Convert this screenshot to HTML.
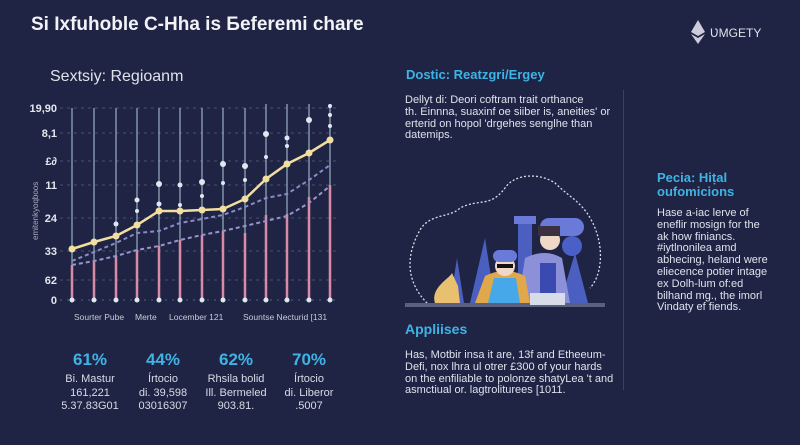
<!DOCTYPE html>
<html><head><meta charset="utf-8"><style>
body{margin:0;width:800px;height:445px;background:#1f2444;font-family:"Liberation Sans",sans-serif;overflow:hidden;position:relative;color:#e6e8f0}
.a{position:absolute;white-space:nowrap}
.cy{color:#3fb3e6;font-weight:bold}
.p{font-size:11px;line-height:11.8px;color:#dfe2ec}
.st{position:absolute;text-align:center;width:80px;font-size:11px;line-height:13.5px;color:#d8dbe6}
.st b{display:block;font-size:17px;line-height:22px;color:#3fb3e6;margin-bottom:2px}
</style></head><body>
<div class="a" style="left:31px;top:14px;font-size:19px;font-weight:bold;color:#f2f3f7">Si Ixfuhoble C-Hha is Бeferemi chare</div>
<svg class="a" style="left:691px;top:20px" width="14" height="24"><polygon points="7,0 14,12 7,16 0,12" fill="#ccd"/><polygon points="7,18 14,14 7,24 0,14" fill="#ccd"/></svg>
<div class="a" style="left:710px;top:26px;font-size:12px;color:#dfe1ea">ƲMGETY</div>
<div class="a" style="left:50px;top:68px;font-size:16px;color:#e0e2ea">Sextsiy: Regioanm</div>

<svg class="a" style="left:0;top:0" width="360" height="330">
<g font-family="Liberation Sans" font-size="11" font-weight="bold" fill="#e4e6ee" text-anchor="end">
<text x="57" y="112">19,90</text><text x="57" y="137">8,1</text><text x="57" y="165">£∂</text><text x="57" y="189">11</text><text x="57" y="222">24</text><text x="57" y="255">33</text><text x="57" y="284">62</text><text x="57" y="304">0</text>
</g>
<text transform="translate(38,240) rotate(-90)" font-size="8" fill="#aab" font-family="Liberation Sans">emitenkyoqboos</text>
<g stroke="#4a5070" stroke-dasharray="3,4" stroke-width="1">
<line x1="60" x2="340" y1="108" y2="108"/><line x1="60" x2="340" y1="133" y2="133"/><line x1="60" x2="340" y1="161" y2="161"/><line x1="60" x2="340" y1="185" y2="185"/><line x1="60" x2="340" y1="218" y2="218"/><line x1="60" x2="340" y1="251" y2="251"/><line x1="60" x2="340" y1="280" y2="280"/>
</g>
<line x1="60" x2="340" y1="300" y2="300" stroke="#5a6080" stroke-dasharray="2,5"/>
<g stroke="#b8d0e4" stroke-opacity="0.65" stroke-width="1.5">
<line x1="72" x2="72" y1="108" y2="300"/><line x1="94" x2="94" y1="108" y2="300"/><line x1="116" x2="116" y1="108" y2="300"/><line x1="137" x2="137" y1="108" y2="300"/><line x1="159" x2="159" y1="108" y2="300"/><line x1="180" x2="180" y1="108" y2="300"/><line x1="202" x2="202" y1="108" y2="300"/><line x1="223" x2="223" y1="108" y2="300"/><line x1="245" x2="245" y1="108" y2="300"/><line x1="266" x2="266" y1="104" y2="300"/><line x1="287" x2="287" y1="104" y2="300"/><line x1="309" x2="309" y1="104" y2="300"/><line x1="330" x2="330" y1="104" y2="300"/>
</g>
<g stroke="#d98aa6" stroke-width="2.5">
<line x1="72" x2="72" y1="265" y2="300"/><line x1="94" x2="94" y1="261" y2="300"/><line x1="116" x2="116" y1="256" y2="300"/><line x1="137" x2="137" y1="250" y2="300"/><line x1="159" x2="159" y1="246" y2="300"/><line x1="180" x2="180" y1="240" y2="300"/><line x1="202" x2="202" y1="235" y2="300"/><line x1="223" x2="223" y1="231" y2="300"/><line x1="245" x2="245" y1="233" y2="300"/><line x1="266" x2="266" y1="215" y2="300"/><line x1="287" x2="287" y1="214" y2="300"/><line x1="309" x2="309" y1="197" y2="300"/><line x1="330" x2="330" y1="185" y2="300"/>
</g>
<g fill="#dfe8f2">
<circle cx="72" cy="300" r="2.5"/><circle cx="94" cy="300" r="2.5"/><circle cx="116" cy="300" r="2.5"/><circle cx="137" cy="300" r="2.5"/><circle cx="159" cy="300" r="2.5"/><circle cx="180" cy="300" r="2.5"/><circle cx="202" cy="300" r="2.5"/><circle cx="223" cy="300" r="2.5"/><circle cx="245" cy="300" r="2.5"/><circle cx="266" cy="300" r="2.5"/><circle cx="287" cy="300" r="2.5"/><circle cx="309" cy="300" r="2.5"/><circle cx="330" cy="300" r="2.5"/>
<circle cx="116" cy="224" r="2.5"/><circle cx="137" cy="200" r="2.5"/><circle cx="137" cy="211" r="2"/><circle cx="159" cy="184" r="3"/><circle cx="159" cy="204" r="2.5"/><circle cx="180" cy="185" r="2.5"/><circle cx="180" cy="205" r="2"/><circle cx="202" cy="182" r="3"/><circle cx="202" cy="196" r="2"/><circle cx="223" cy="164" r="3"/><circle cx="223" cy="183" r="2"/><circle cx="245" cy="166" r="3"/><circle cx="245" cy="180" r="2"/><circle cx="266" cy="134" r="3"/><circle cx="266" cy="157" r="2"/><circle cx="287" cy="138" r="2.5"/><circle cx="287" cy="146" r="2"/><circle cx="309" cy="120" r="3"/><circle cx="330" cy="115" r="2"/><circle cx="330" cy="126" r="2"/><circle cx="330" cy="106" r="2"/>
</g>
<polyline fill="none" stroke="#8a8cc8" stroke-width="2" stroke-dasharray="4,3" points="72,261 94,252 116,243 137,233 159,231 180,223 202,219 223,215 245,207 266,198 287,194 309,180 330,165"/>
<polyline fill="none" stroke="#9a94c8" stroke-width="2" stroke-dasharray="4,3" points="72,265 94,261 116,256 137,250 159,246 180,240 202,235 223,231 245,226 266,221 287,216 309,203 330,186"/>
<polyline fill="none" stroke="#f2dfa0" stroke-width="2.5" points="72,249 94,242 116,236 137,225 159,211 180,211 202,210 223,209 245,199 266,179 287,164 309,153 330,140"/>
<g fill="#f2dfa0"><circle cx="72" cy="249" r="3.5"/><circle cx="94" cy="242" r="3.5"/><circle cx="116" cy="236" r="3.5"/><circle cx="137" cy="225" r="3.5"/><circle cx="159" cy="211" r="3.5"/><circle cx="180" cy="211" r="3.5"/><circle cx="202" cy="210" r="3.5"/><circle cx="223" cy="209" r="3.5"/><circle cx="245" cy="199" r="3.5"/><circle cx="266" cy="179" r="3.5"/><circle cx="287" cy="164" r="3.5"/><circle cx="309" cy="153" r="3.5"/><circle cx="330" cy="140" r="3.5"/></g>
<g font-family="Liberation Sans" font-size="8.5" fill="#c8cbd8"><text x="74" y="320">Sourter Pube</text><text x="135" y="320">Merte</text><text x="169" y="320">Locember 121</text><text x="243" y="320">Sountse Necturid [131</text></g>
</svg>

<div class="a cy" style="left:406px;top:67px;font-size:13px">Dostic: Reatzgri/Ergey</div>
<div class="a p" style="left:405px;top:95px">Dellyt di: Deori coftram trait orthance<br>th. Einnna, suaxinf oe siiber is, aneities' or<br>erterid on hopol 'drgehes senglhe than<br>datemips.</div>
<div class="a" style="left:623px;top:90px;width:1px;height:300px;background:#3a4060"></div>

<svg class="a" style="left:390px;top:158px" width="230" height="155">
<path d="M40,148 C10,120 20,90 30,72 C40,55 60,60 70,50 C90,40 100,50 115,30 C125,15 150,15 165,25 C180,40 195,45 205,70 C215,95 210,120 200,130" fill="none" stroke="#d8dce8" stroke-width="1.3" stroke-dasharray="2,2"/>
<polygon points="60,145 67,100 74,145" fill="#4a5fc0"/><polygon points="80,145 95,80 105,145" fill="#4a5fc0"/><polygon points="170,145 185,95 198,145" fill="#4a5fc0"/>
<rect x="128" y="62" width="14" height="83" fill="#4a5fc0"/><rect x="124" y="58" width="22" height="8" fill="#6a7ad8"/>
<rect x="150" y="60" width="44" height="18" rx="9" fill="#6a7ad8"/><circle cx="182" cy="88" r="10" fill="#4a60c8"/>
<path d="M128,145 L135,100 Q155,90 172,100 L180,145Z" fill="#8c90d8"/><rect x="150" y="105" width="16" height="40" fill="#3a4ab0"/><circle cx="160" cy="82" r="10" fill="#f0d8c8"/><rect x="148" y="68" width="22" height="10" fill="#3a3040"/>
<path d="M85,145 L95,118 Q115,108 135,118 L140,145Z" fill="#e0a84a"/><path d="M98,145 L104,120 L126,120 L130,145Z" fill="#46a8e8"/><circle cx="115" cy="108" r="10" fill="#f0d8c8"/><rect x="103" y="92" width="24" height="12" rx="6" fill="#6a7ad8"/><rect x="107" y="106" width="16" height="4" fill="#111"/>
<path d="M45,145 C40,130 60,120 62,115 L68,128 L70,145Z" fill="#e8c070"/>
<rect x="15" y="145" width="200" height="4" fill="#5a6080"/><rect x="140" y="135" width="35" height="12" fill="#d8dce8"/>
</svg>

<div class="a cy" style="left:657px;top:171px;font-size:13px;line-height:14px">Pecia: Hiṭal<br>oufomicions</div>
<div class="a p" style="left:657px;top:208px">Hase a-iac lerve of<br>eneflir mosign for the<br>ak how finiancs.<br>#iytlnonilea amd<br>abhecing, heland were<br>eliecence potier intage<br>ex Dolh-lum of:ed<br>bilhand mg., the imorl<br>Vindaty ef fiends.</div>

<div class="a cy" style="left:405px;top:321px;font-size:14px">Appliises</div>
<div class="a p" style="left:405px;top:350px">Has, Motbir insa it are, 13f and Etheeum-<br>Defi, nox lhra ul otrer £300 of your hards<br>on the enfiliable to polonze shatyLea 't and<br>asmctiual or. lagtroliturees [1011.</div>

<div class="st" style="left:50px;top:349px"><b>61%</b>Bi. Mastur<br>161,221<br>5.37.83G01</div>
<div class="st" style="left:123px;top:349px"><b>44%</b>Írtocio<br>di. 39,598<br>03016307</div>
<div class="st" style="left:196px;top:349px"><b>62%</b>Rhsila bolid<br>Ill. Bermeled<br>903.81.</div>
<div class="st" style="left:269px;top:349px"><b>70%</b>Írtocio<br>di. Liberor<br>.5007</div>
</body></html>
